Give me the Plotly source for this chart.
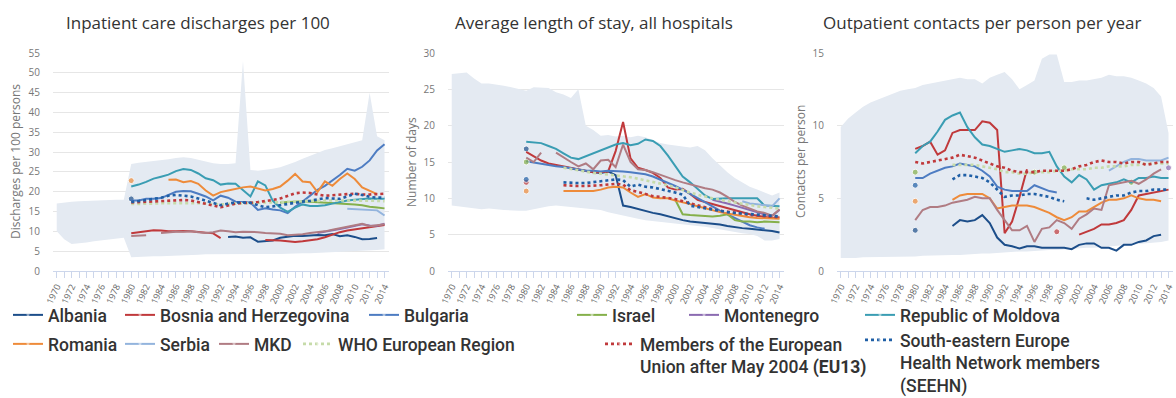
import plotly.graph_objects as go

N = None
YEARS = list(range(1970, 2015))      # full axis span (range bands)
YEARS_80 = list(range(1980, 2015))   # country / group series

# ---------------- Inpatient care discharges per 100 ----------------
DIS_BAND_HI = [17.0, 17.3, 17.5, 17.6, 17.7, 17.8, 17.8, 17.9, 18.0, 18.0,
               27.0, 27.3, 27.5, 27.8, 28.0, 28.2, 28.5, 28.7, 28.5, 28.0,
               27.6, 27.2, 27.0, 27.0, 27.2, 53.0, 25.5, 25.3, 25.5, 25.8,
               26.2, 26.8, 27.5, 28.3, 29.0, 29.8, 30.5, 31.0, 31.5, 32.0,
               32.5, 33.0, 45.0, 34.0, 33.0]
DIS_BAND_LO = [10.0, 8.0, 6.8, 7.0, 7.2, 7.5, 7.8, 8.0, 8.2, 8.4,
               3.5, 3.6, 3.6, 3.7, 3.7, 3.8, 3.9, 4.0, 4.0, 4.1,
               4.2, 4.2, 4.2, 4.2, 4.2, 4.2, 4.2, 4.2, 4.3, 4.3,
               4.3, 4.4, 4.4, 4.5, 4.5, 4.6, 4.7, 4.8, 4.9, 5.0,
               5.0, 5.1, 5.2, 5.3, 5.5]
DIS_ALBANIA = [18.2, N, N, N, N, N, N, N, N, N, N, N, N,
               8.6, 8.7, 8.4, 8.5, 7.4, 7.5, 7.7, 8.4, 8.7, 8.9, 8.8, 8.9,
               9.1, 9.0, 9.3, 8.8, 9.0, 8.6, 8.0, 8.1, 8.3, N]
DIS_BOSNIA = [9.5, 9.8, 10.1, 10.3, 10.2, 10.0, 10.0, 10.1, 10.0, 9.8, 9.6, 9.5, 8.3,
              N, N, N, N, N,
              7.8, 7.8, 7.7, 7.5, 7.3, 7.5, 7.7, 8.0, 8.5, 9.2, 9.8, 10.2,
              10.5, 10.8, 11.0, 11.3, 11.6]
DIS_BULGARIA = [17.8, 17.8, 18.2, 18.2, 18.4, 19.3, 20.0, 20.2, 20.1, 19.5,
                18.8, 17.8, 19.0, 18.5, 17.5, 17.4, 17.3, 15.4, 15.8, 15.5,
                15.3, 14.6, 16.2, 17.5, 19.0, 20.5, 21.5, 22.8, 24.2, 25.8,
                25.3, 26.3, 27.9, 30.4, 32.0]
DIS_ISRAEL = [N] * 20 + [17.3, 17.4, 17.5, 17.6, 17.5, 17.4, 17.3, 17.2, 17.0,
                         16.9, 16.8, 16.6, 16.2, 16.0, 15.8]
DIS_MONTENEGRO = [N] * 25 + [9.6, 9.9, 10.3, 10.6, 11.0, 11.4, 11.8, 11.5, 11.4, 11.9]
DIS_MOLDOVA = [21.3, 21.8, 22.5, 23.3, 23.8, 24.3, 25.2, 25.7, 25.5, 24.6,
               23.4, 22.9, 21.8, 22.1, 22.0, 20.5, 18.8, 22.6, 21.6, 17.7,
               16.0, 14.9, 16.0, 16.8, 16.4, 16.4, 16.6, 17.0, 17.4, 17.8,
               18.0, 18.2, 18.3, 18.2, 18.2]
DIS_ROMANIA = [22.8, N, N, N, N,
               23.0, 23.1, 22.4, 22.7, 22.0, 20.3, 19.0, 19.9, 20.3, 20.7,
               21.1, 21.3, 20.8, 20.3, 20.7, 21.3, 22.8, 24.5, 22.6, 22.4,
               19.9, 22.6, 21.5, 23.2, 24.6, 23.2, 21.1, 20.3, 19.4, N]
DIS_SERBIA = [N] * 29 + [15.7, 15.6, 15.5, 15.5, 15.3, 14.0]
DIS_MKD = [8.8, 8.9, 9.0, N, 9.6, 9.8, 9.9, 9.9, 10.0, 9.8,
           9.6, 9.8, 10.2, 10.0, 9.8, 9.9, 9.9, 9.8, 9.6, 9.5,
           9.4, 9.0, 9.1, 9.3, 9.6, 9.8, 10.0, 10.4, 10.8, 11.2,
           11.6, 11.9, 11.3, 11.5, 11.8]
DIS_WHO = [16.9, 16.9, 17.0, 17.0, 17.1, 17.1, 17.2, 17.2, 17.2, 17.1,
           17.0, 16.9, 16.8, 16.9, 17.0, 17.1, 17.2, 17.2, 17.3, 17.3,
           17.4, 17.5, 17.6, 17.6, 17.7, 17.7, 17.8, 17.8, 17.8, 17.8,
           17.8, 17.8, 17.7, 17.7, 17.6]
DIS_EU13 = [17.3, 17.4, 17.5, 17.6, 17.6, 17.7, 17.8, 17.9, 17.8, 17.4,
            17.0, 16.6, 16.1, 16.5, 17.0, 17.2, 17.2, 17.4, 17.6, 17.9,
            18.3, 19.0, 19.6, 19.8, 19.7, 19.3, 19.0, 19.1, 19.3, 19.4,
            19.5, 19.3, 19.3, 19.4, 19.5]
DIS_SEEHN = [17.4, 17.6, 17.9, 18.2, 18.5, 19.0, 19.2, 19.0, 18.8, 18.3,
             17.7, 17.1, 16.6, 17.0, 17.3, 17.3, 17.2, 16.6, 16.1, 16.3,
             16.6, 17.0, 17.3, 17.5, 17.7, 18.0, 18.4, 18.3, 18.2, 18.8,
             19.5, 19.2, 18.7, 18.5, 18.5]

# ---------------- Average length of stay, all hospitals ----------------
LOS_BAND_HI = [27.1, 27.2, 27.3, 26.5, 25.8, 25.8, 25.7, 25.5, 25.3, 25.0,
               24.8, 25.3, 25.3, 25.2, 24.6, 24.3, 23.8, 25.0, 20.0, 19.4,
               18.6, 18.7, 18.5, 18.6, 18.4, 18.6, 18.4, 18.0, 17.6, 17.4,
               17.3, 17.2, 17.0, 17.2, 16.6, 15.5, 14.5, 13.6, 12.8, 12.2,
               11.6, 11.2, 10.8, 10.4, 10.8]
LOS_BAND_LO = [9.0, 8.9, 8.8, 8.6, 8.5, 8.6, 8.5, 8.4, 8.3, 8.3,
               8.3, 8.5, 8.7, 8.9, 9.0, 9.0, 8.8, 8.7, 8.6, 8.5,
               8.4, 8.1, 7.8, 7.6, 7.4, 7.2, 7.0, 6.9, 6.8, 6.7,
               6.6, 6.5, 6.3, 6.2, 6.1, 6.0, 5.8, 5.6, 5.4, 5.2,
               5.1, 4.8, 4.2, 4.2, 4.4]
LOS_ALBANIA = [16.8, N, N, N, N, N,
               14.1, 13.9, 13.7, 13.6, 13.5, 13.7, 13.2, 9.0, 8.8, 8.5,
               8.2, 8.0, 7.8, 7.5, 7.3, 7.0, 6.8, 6.7, 6.6, 6.5,
               6.4, 6.2, 6.0, 5.9, 5.8, 5.7, 5.7, 5.5, 5.3]
LOS_BOSNIA = [16.4, 15.8, 15.2, 14.8, 14.6, 14.4, 14.1, 13.9, 13.7, 13.6,
              13.6, 13.7, 16.5, 20.5, 15.5, 14.2, 13.9, 13.5, 12.8, 11.5,
              11.2, 11.3, 10.6, 9.8, 9.5, 9.2, 9.0, 8.6, 8.3, 8.0,
              7.8, 7.6, 7.5, 7.3, 7.4]
LOS_BULGARIA = [15.1, 14.9, 14.8, 14.6, 14.4, 14.3, 14.1, 13.9, 13.8, 13.8,
                13.7, 13.8, 13.8, 13.7, 13.6, 13.5, 13.3, 13.0, 12.6, 12.1,
                11.7, 11.2, 10.6, 10.0, 9.4, 8.8, 8.3, 7.8, 7.3, 6.8,
                6.3, 6.0, 5.8, N, N]
LOS_ISRAEL = [15.0] + [N] * 19 + [9.8, 7.8, 7.7, 7.6, 7.6, 7.5, 7.6, 7.8, 7.0,
                                  6.8, 6.8, 6.7, 6.8, 6.7, 6.7]
LOS_MONTENEGRO = [N] * 25 + [9.8, 9.6, 9.3, 9.0, 8.7, 8.3, 8.0, 7.8, 7.6, 8.4]
LOS_MOLDOVA = [17.8, 17.7, 17.6, 17.2, 16.8, 16.2, 15.6, 15.4, 15.8, 16.1,
               16.5, 16.9, 17.4, 17.6, 17.3, 17.5, 18.1, 17.9, 17.2, 15.9,
               14.4, 13.0, 12.2, 11.3, 10.4, 9.9, 10.0, 10.0, 10.0, 10.0,
               10.0, 10.0, 9.0, 8.9, 8.9]
LOS_ROMANIA = [11.0, N, N, N, N,
               11.0, 11.0, 11.0, 11.0, 11.0, 11.2, 11.5, 11.6, 11.5, 10.8,
               10.2, 10.6, 10.1, 10.0, 10.0, 9.7, 9.5, 9.2, 8.9, 8.6,
               8.4, 8.1, 7.9, 7.7, 7.5, 7.4, 7.3, 7.3, 7.2, 7.2]
LOS_SERBIA = [N] * 29 + [9.6, 9.3, 9.2, 9.0, 8.9, 10.0]
LOS_MKD = [15.6, 15.0, 16.3, N, 16.3, 15.6, 15.0, 14.4, 14.8, 14.0,
           15.2, 15.3, 14.3, 17.4, 15.0, 14.0, 13.9, 13.6, 13.2, 12.8,
           12.5, 12.2, 11.9, 11.6, 11.4, 11.2, 10.8, 10.2, 9.5, 9.0,
           8.6, 8.2, 8.0, 7.6, 8.5]
LOS_WHO = [N] * 5 + [14.2, 14.0, 13.8, 13.6, 13.5, 13.4, 13.3, 13.2, 13.1, 12.9,
                     12.7, 12.5, 12.3, 12.1, 11.8, 11.5, 11.1, 10.8, 10.5, 10.2,
                     10.0, 9.8, 9.6, 9.4, 9.2, 9.0, 8.9, 8.8, 8.7, 8.6]
LOS_EU13 = [12.2, N, N, N, N,
            11.8, 11.7, 11.7, 11.7, 11.7, 11.8, 11.9, 12.0, 11.9, 11.1,
            10.9, 10.6, 10.3, 10.2, 10.1, 9.9, 9.6, 9.3, 9.0, 8.7,
            8.5, 8.3, 8.2, 8.0, 7.9, 7.7, 7.6, 7.5, 7.4, 7.4]
LOS_SEEHN = [12.6, N, N, N, N,
             12.2, 12.1, 12.1, 12.1, 12.2, 12.3, 12.4, 12.6, 12.5, 11.6,
             11.9, 11.6, 11.5, 11.3, 11.0, 10.8, 10.5, 9.0, 8.8, 8.6,
             8.4, 8.2, 8.1, 8.0, 7.9, 7.8, 7.7, 7.6, 7.5, 7.5]

# ---------------- Outpatient contacts per person per year ----------------
OP_BAND_HI = [9.9, 10.5, 10.9, 11.3, 11.6, 11.8, 12.0, 12.2, 12.4, 12.5,
              12.6, 12.8, 12.9, 13.0, 13.1, 13.2, 13.3, 13.2, 13.2, 12.9,
              13.3, 13.5, 13.7, 13.2, 12.5, 12.8, 13.1, 14.6, 14.9, 14.9,
              13.0, 13.0, 13.1, 13.1, 13.2, 13.3, 13.5, 13.4, 13.4, 13.3,
              13.1, 12.9, 12.6, 12.0, 9.5]
OP_BAND_LO = [0.9, 0.9, 0.9, 0.95, 0.95, 1.0, 1.0, 1.0, 1.0, 1.0,
              1.0, 1.05, 1.05, 1.1, 1.1, 1.1, 1.1, 1.15, 1.15, 1.2,
              1.2, 1.25, 1.3, 1.3, 1.35, 1.35, 1.4, 1.4, 1.45, 1.45,
              1.5, 1.5, 1.55, 1.6, 1.6, 1.65, 1.7, 1.7, 1.75, 1.8,
              1.85, 1.9, 1.95, 2.0, 2.1]
OP_ALBANIA = [2.8, N, N, N, N,
              3.1, 3.5, 3.4, 3.5, 3.85, 3.3, 2.3, 1.8, 1.7, 1.55,
              1.7, 1.7, 1.6, 1.6, 1.6, 1.6, 1.5, 1.8, 1.9, 1.9,
              1.6, 1.6, 1.4, 1.8, 1.8, 2.0, 2.1, 2.4, 2.5, N]
OP_BOSNIA = [8.4, 8.6, 8.9, 8.0, 8.3, 9.5, 9.7, 9.7, 9.7, 10.3,
             10.2, 9.7, 2.6, 3.4, 5.1, 7.0, N, N, N, 2.7,
             N, N, 2.5, 2.7, 2.9, 3.2, 3.2, 3.3, 3.5, 4.2,
             5.2, 5.3, 5.4, 5.5, 5.6]
OP_BULGARIA = [6.4, 6.4, 6.7, 6.9, 7.1, 7.2, 7.4, 7.3, 7.2, 6.9,
               6.5, 5.8, 5.6, 5.5, 5.5, 5.5, 5.9, 5.7, 5.5, 5.4] + [N] * 15
OP_ISRAEL = [6.8] + [N] * 15 + [6.8, N, N, N, 7.1] + [N] * 8 + [6.1] + [N] * 5
OP_MONTENEGRO = [N] * 34 + [7.1]
OP_MOLDOVA = [8.1, 8.6, 8.9, 9.6, 10.4, 10.7, 10.9, 9.9, 9.2, 8.7,
              8.6, 8.4, 8.2, 8.3, 8.4, 8.3, 8.1, 8.1, 8.2, 7.2,
              6.5, 6.1, 6.6, 6.3, 5.6, 5.9, 6.0, 6.1, 6.3, 6.1,
              6.4, 6.4, 6.5, 6.4, 6.4]
OP_ROMANIA = [4.8, N, N, N, N,
              4.9, 5.2, 5.3, 5.3, 5.3, 5.0, 4.3, 4.4, 4.5, 4.5,
              4.5, 4.4, 4.2, 4.0, 3.7, 3.5, 3.7, 4.1, 4.1, 4.4,
              4.7, 4.9, 4.9, 5.0, 5.2, 5.0, 4.9, 4.9, 4.8, N]
OP_SERBIA = [N] * 26 + [6.9, 7.2, 7.5, 7.7, 7.7, 7.6, 7.6, 7.6, 7.8]
OP_MKD = [3.5, 4.2, 4.4, 4.4, 4.5, 4.7, 4.8, 4.9, 5.1, 5.0,
          5.0, 4.2, 3.5, 2.8, 2.8, 3.1, 2.0, 2.9, 3.0, 3.5,
          3.3, 2.9, 3.6, 3.9, 4.3, 4.2, 5.9, 6.0, 6.1, 6.2,
          6.0, 6.3, 6.7, 7.0, N]
OP_WHO = [N] * 5 + [7.3, 7.3, 7.3, 7.3, 7.2, 7.1, 7.0, 6.8, 6.8, 6.7,
                    6.7, 6.8, 6.8, 6.8, 6.9, 6.9, 7.0, 7.0, 7.0, 7.1,
                    7.1, 7.2, 7.2, 7.2, 7.3, 7.3, 7.4, 7.4, 7.4, 7.4]
OP_EU13 = [7.5, 7.4, 7.5, 7.6, 7.7, 7.8, 8.0, 7.9, 7.8, 7.6,
           7.4, 7.2, 7.1, 6.9, 6.8, 6.8, 6.8, 6.9, 6.9, 6.9,
           6.9, 7.0, 7.2, 7.3, 7.5, 7.6, 7.5, 7.5, 7.4, 7.5,
           7.5, 7.3, 7.4, 7.5, 7.5]
OP_SEEHN = [5.9, N, N, N, N,
            6.3, 6.6, 6.6, 6.5, 6.4, 6.1, 5.6, 5.1, 5.2, 5.2,
            5.3, 5.3, 5.2, 5.1, 4.9, 4.8, N, N, 5.0, 4.9,
            5.0, 5.1, 5.2, 5.2, 5.4, 5.5, 5.5, 5.6, 5.6, 5.6]

# ---------------- Series styling and legend layout ----------------
SERIES = [
    # name, colour, dash, (discharges, length of stay, outpatient)
    ("Albania", "#1c4e8a", "solid", (DIS_ALBANIA, LOS_ALBANIA, OP_ALBANIA)),
    ("Bosnia and Herzegovina", "#c0393b", "solid", (DIS_BOSNIA, LOS_BOSNIA, OP_BOSNIA)),
    ("Bulgaria", "#4d7cc2", "solid", (DIS_BULGARIA, LOS_BULGARIA, OP_BULGARIA)),
    ("Israel", "#85b04b", "solid", (DIS_ISRAEL, LOS_ISRAEL, OP_ISRAEL)),
    ("Montenegro", "#8b6bb1", "solid", (DIS_MONTENEGRO, LOS_MONTENEGRO, OP_MONTENEGRO)),
    ("Republic of Moldova", "#3a9db3", "solid", (DIS_MOLDOVA, LOS_MOLDOVA, OP_MOLDOVA)),
    ("Romania", "#ee8b3a", "solid", (DIS_ROMANIA, LOS_ROMANIA, OP_ROMANIA)),
    ("Serbia", "#93b4dd", "solid", (DIS_SERBIA, LOS_SERBIA, OP_SERBIA)),
    ("MKD", "#b07c83", "solid", (DIS_MKD, LOS_MKD, OP_MKD)),
    ("WHO European Region", "#c6dba9", "dot", (DIS_WHO, LOS_WHO, OP_WHO)),
    ("Members of the European<br>Union after May 2004 <b>(EU13)</b>", "#c0393b", "dot",
     (DIS_EU13, LOS_EU13, OP_EU13)),
    ("South-eastern Europe<br>Health Network members<br>(SEEHN)", "#1f5fa6", "dot",
     (DIS_SEEHN, LOS_SEEHN, OP_SEEHN)),
]

# legend entry text start and first-row centre, in pixels
LEGEND_POS = [(48, 318), (160, 318), (404, 318), (612, 318), (724, 318), (900, 318),
              (48, 347), (160, 347), (254, 347), (338, 347), (640, 347), (900, 343)]
LEGEND_TEXT_OFFSET = 40
LEGEND_TOP_OFFSET = 21

W, H = 1176, 398
BAND = "#e4eaf2"
GRID = "#e6e6e6"
AXIS = "#ccd6eb"
FONT = "Open Sans"

PANELS = [
    ("Inpatient care discharges per 100", "Discharges per 100 persons",
     DIS_BAND_HI, DIS_BAND_LO, 55, (53, 389), 15),
    ("Average length of stay, all hospitals", "Number of days",
     LOS_BAND_HI, LOS_BAND_LO, 30, (448, 784), 411),
    ("Outpatient contacts per person per year", "Contacts per person",
     OP_BAND_HI, OP_BAND_LO, 15, (837, 1173), 800),
]
TITLE_X = [198, 594, 982]
Y_TOP, Y_BOT = 53, 271


def isolated(vals):
    out = []
    for i, v in enumerate(vals):
        prev_v = vals[i - 1] if i > 0 else None
        next_v = vals[i + 1] if i < len(vals) - 1 else None
        out.append(v is not None and prev_v is None and next_v is None)
    return out


fig = go.Figure()
layout = dict(
    template="none",
    width=W, height=H, margin=dict(l=0, r=0, t=0, b=0, autoexpand=False),
    paper_bgcolor="white", plot_bgcolor="white",
    font=dict(family=FONT, color="#333"),
    annotations=[],
)

for p, (title, ytitle, hi, lo, ymax, (x0, x1), ytx) in enumerate(PANELS):
    sfx = "" if p == 0 else str(p + 1)
    xa, ya = "x" + sfx, "y" + sfx
    # shaded range of the European Region
    fig.add_trace(go.Scatter(
        x=YEARS + YEARS[::-1], y=hi + lo[::-1], xaxis=xa, yaxis=ya,
        mode="lines", fill="toself", fillcolor=BAND, line=dict(width=0),
        hoverinfo="skip", showlegend=False))
    for k, (name, color, dash, data) in enumerate(SERIES):
        vals = data[p]
        iso = isolated(vals)
        leg = "legend" if k == 0 else "legend%d" % (k + 1)
        fig.add_trace(go.Scatter(
            x=YEARS_80, y=vals, xaxis=xa, yaxis=ya, name=name,
            mode="lines+markers",
            line=dict(color=color, width=2.6 if dash == "dot" else 2, dash=dash),
            marker=dict(color=color, size=[6 if f else 0 for f in iso]),
            connectgaps=False, legendgroup=name, legend=leg,
            showlegend=(p == 0)))
    layout["xaxis" + sfx] = dict(
        domain=[x0 / W, x1 / W], range=[1969.5, 2014.6], anchor=ya,
        tickmode="linear", tick0=1970, dtick=2, tickangle=-65,
        tickfont=dict(size=9, color="#666"), ticks="outside", ticklen=6,
        tickcolor=AXIS, showline=True, linecolor=AXIS, linewidth=1,
        showgrid=False, zeroline=False, automargin=False,
        minor=dict(dtick=1, ticks="outside", ticklen=6, tickcolor=AXIS, showgrid=False))
    layout["yaxis" + sfx] = dict(
        domain=[1 - Y_BOT / H, 1 - Y_TOP / H], range=[0, ymax], anchor=xa,
        tickmode="linear", tick0=0, dtick=5,
        tickfont=dict(size=10, color="#777"), showgrid=True, gridcolor=GRID,
        gridwidth=1, showline=False, zeroline=False, ticklabelstandoff=12,
        automargin=False)
    layout["annotations"].append(dict(
        text=title, x=TITLE_X[p] / W, y=1 - 22 / H, xref="paper", yref="paper",
        showarrow=False, xanchor="center", yanchor="middle",
        font=dict(size=17, color="#333", family=FONT)))
    layout["annotations"].append(dict(
        text=ytitle, x=ytx / W, y=1 - (Y_TOP + Y_BOT) / 2 / H, xref="paper", yref="paper",
        showarrow=False, xanchor="center", yanchor="middle", textangle=-90,
        font=dict(size=12, color="#777", family=FONT)))

for k, (tx, ly) in enumerate(LEGEND_POS):
    key = "legend" if k == 0 else "legend%d" % (k + 1)
    layout[key] = dict(
        x=(tx - LEGEND_TEXT_OFFSET) / W, y=1 - (ly - LEGEND_TOP_OFFSET) / H,
        xanchor="left", yanchor="top",
        orientation="v", bgcolor="rgba(0,0,0,0)", borderwidth=0,
        valign="top", itemwidth=30,
        font=dict(family="Roboto", size=17.5, color="#333", weight=500))

fig.update_layout(**layout)
fig.write_html("out.html")
